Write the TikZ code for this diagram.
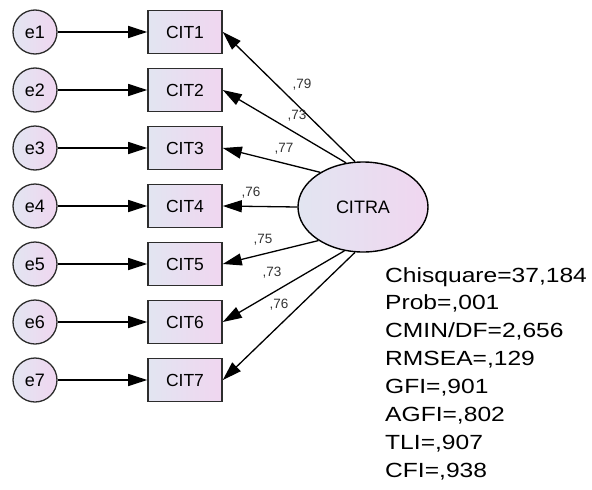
\documentclass[tikz,border=0pt]{standalone}
\usepackage{fontspec}
\setmainfont{Liberation Sans}
\newfontfamily\statfont[FakeStretch=1.2]{Liberation Sans}
\usetikzlibrary{arrows.meta,shapes.geometric}
\definecolor{fondG}{RGB}{226,229,241}
\definecolor{fondD}{RGB}{240,214,240}
\definecolor{bord}{RGB}{45,45,45}

\begin{document}
\begin{tikzpicture}[x=1pt,y=-1pt,
  erreur/.style={circle,draw=bord,line width=1.3pt,minimum size=44pt,inner sep=0pt,
    left color=fondG,right color=fondD,font=\fontsize{18}{18}\selectfont},
  obs/.style={rectangle,draw=bord,line width=1.6pt,minimum width=74pt,minimum height=43pt,
    inner sep=0pt,left color=fondG,right color=fondD,font=\fontsize{17.5}{17.5}\selectfont},
  lat/.style={ellipse,draw=black,line width=1.4pt,minimum width=130pt,minimum height=90pt,
    inner sep=0pt,left color=fondG,right color=fondD,font=\fontsize{18}{18}\selectfont},
  fleche/.style={line width=1.3pt,-{Triangle[length=19pt,width=12pt]}},
  poids/.style={font=\fontsize{13.5}{13.5}\selectfont,text=black!80,inner sep=0pt}]

  \useasboundingbox (0,0) rectangle (592,490);

  % Les erreurs et les items
  \foreach \i/\y in {1/32,2/90,3/148,4/206,5/264,6/322,7/380}{
    \node[erreur] (e\i) at (35,\y) {e\i};
    \node[obs] (cit\i) at (185,\y) {CIT\i};
    \draw[fleche] (e\i) -- (cit\i);
  }

  % Le facteur
  \node[lat] (citra) at (363,207) {CITRA};
  \foreach \i/\a in {1/100,2/111,3/141,4/180,5/217,6/247,7/260}
    \draw[fleche] (citra.\a) -- (cit\i.east);

  % Les poids
  \node[poids] (p1) at (302,85) {,79};
  \node[poids] (p2) at (297,116) {,73};
  \node[poids] (p3) at (284,149) {,77};
  \node[poids] (p4) at (251,193) {,76};
  \node[poids] (p5) at (263,240) {,75};
  \node[poids] (p6) at (272,273) {,73};
  \node[poids] (p7) at (279,305) {,76};

  % Les indices
  \node[anchor=north west,align=left,inner sep=0pt,
    font=\statfont\fontsize{20.5}{27.9}\selectfont] (stats) at (385,267)
    {Chisquare=37,184\\Prob=,001\\CMIN/DF=2,656\\RMSEA=,129\\GFI=,901\\AGFI=,802\\TLI=,907\\CFI=,938};
\end{tikzpicture}
\end{document}
